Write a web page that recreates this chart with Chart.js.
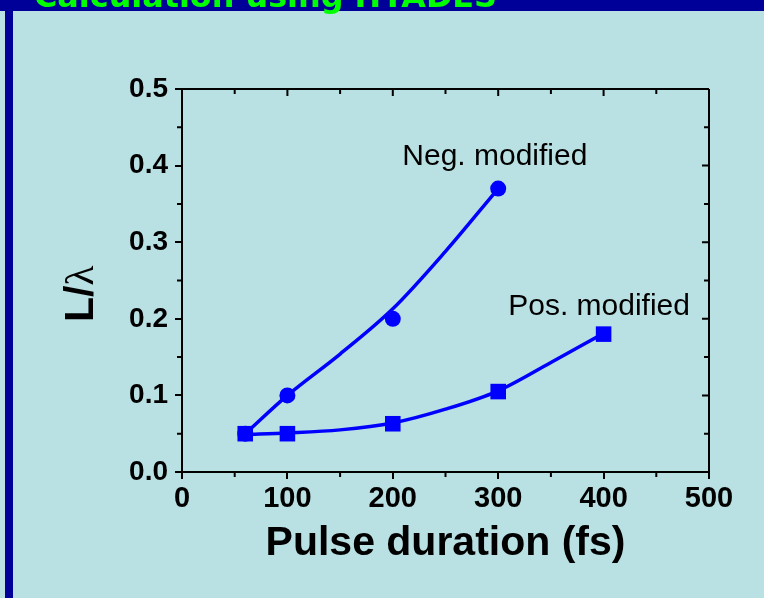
<!DOCTYPE html>
<html>
<head>
<meta charset="utf-8">
<script src="https://cdn.jsdelivr.net/npm/chart.js@4/dist/chart.umd.min.js"></script>
<style>
  html, body { margin: 0; padding: 0; }
  body { width: 764px; height: 598px; background: #b9e0e3; position: relative; overflow: hidden; }
  #band { position: absolute; left: 0; top: 0; width: 764px; height: 11px; background: #000099; }
  #bar { position: absolute; left: 5px; top: 0; width: 8px; height: 598px; background: #000099; }
  #c { position: absolute; left: 0; top: 0; }
</style>
</head>
<body>
<div id="band"></div>
<div id="bar"></div>
<canvas id="c" width="764" height="598"></canvas>
<script>
// Measured points: negatively and positively modified pulses
const negDuration = [60, 100, 200, 300];
const negRatio = [0.05, 0.10, 0.20, 0.37];
const posDuration = [60, 100, 200, 300, 400];
const posRatio = [0.05, 0.05, 0.063, 0.105, 0.18];

// Smooth fit curves through each set
const negFitDuration = [60, 100, 150, 200, 250, 300];
const negFitRatio = [0.05, 0.10, 0.154, 0.213, 0.288, 0.37];
const posFitDuration = [60, 100, 150, 200, 250, 300, 350, 400];
const posFitRatio = [0.049, 0.051, 0.055, 0.064, 0.082, 0.106, 0.143, 0.181];

// Axis ticks
const durationTicks = [0, 100, 200, 300, 400, 500];
const ratioTicks = [0.0, 0.1, 0.2, 0.3, 0.4, 0.5];

const heading = 'Calculation using HYADES';
const negLabel = 'Neg. modified';
const posLabel = 'Pos. modified';

const BLUE = '#0000ff';
const SANS = '"Liberation Sans", Arial, sans-serif';
const toXY = (xs, ys) => xs.map((x, i) => ({ x: x, y: ys[i] }));

// Frame, minor ticks, annotations and the y title
const framePlugin = {
  id: 'frame',
  afterDatasetsDraw(chart) {
    const ctx = chart.ctx;
    const xs = chart.scales.x, ys = chart.scales.y;
    ctx.save();
    ctx.fillStyle = '#000';
    ctx.font = '30px ' + SANS;
    ctx.textBaseline = 'alphabetic';
    ctx.textAlign = 'left';
    ctx.fillText(negLabel, xs.getPixelForValue(209), ys.getPixelForValue(0.401));
    ctx.fillText(posLabel, xs.getPixelForValue(309.5), ys.getPixelForValue(0.205));
    ctx.restore();
  },
  afterDraw(chart) {
    const ctx = chart.ctx;
    const a = chart.chartArea;
    const xs = chart.scales.x, ys = chart.scales.y;
    ctx.save();
    ctx.strokeStyle = '#000';
    ctx.lineWidth = 2;
    ctx.beginPath();
    ctx.moveTo(a.left, a.top); ctx.lineTo(a.right, a.top);
    ctx.moveTo(a.right, a.top); ctx.lineTo(a.right, a.bottom);
    ctx.stroke();
    ctx.beginPath();
    // x ticks: minor outward at bottom, all inward at top
    for (let v = 0; v <= 500; v += 50) {
      const p = xs.getPixelForValue(v);
      const major = v % 100 === 0;
      if (!major) { ctx.moveTo(p, a.bottom); ctx.lineTo(p, a.bottom + 5); }
      ctx.moveTo(p, a.top); ctx.lineTo(p, a.top + (major ? 7 : 5));
    }
    // y ticks: minor outward at left, all inward at right
    for (let k = 0; k <= 10; k++) {
      const v = k * 0.05;
      const p = ys.getPixelForValue(v);
      const major = k % 2 === 0;
      if (!major) { ctx.moveTo(a.left, p); ctx.lineTo(a.left - 5, p); }
      ctx.moveTo(a.right, p); ctx.lineTo(a.right - (major ? 7 : 5), p);
    }
    ctx.stroke();

    // y axis title: bold "L/" followed by a lambda
    ctx.translate(93, 322);
    ctx.rotate(-Math.PI / 2);
    ctx.fillStyle = '#000';
    ctx.textBaseline = 'alphabetic';
    ctx.textAlign = 'left';
    ctx.font = 'bold 41px ' + SANS;
    ctx.fillText('L/', 0, 0);
    const w = ctx.measureText('L/').width;
    ctx.font = '41px "Liberation Serif", serif';
    ctx.fillText('λ', w, 0);
    ctx.restore();

    // heading in the top band
    ctx.save();
    ctx.fillStyle = '#00ff00';
    ctx.font = 'bold 32px "DejaVu Sans", sans-serif';
    ctx.textBaseline = 'alphabetic';
    ctx.textAlign = 'left';
    ctx.fillText(heading, 34, 7, 463);
    ctx.restore();
  }
};

new Chart(document.getElementById('c'), {
  type: 'scatter',
  data: {
    datasets: [
      { data: toXY(negFitDuration, negFitRatio), showLine: true, pointRadius: 0,
        borderColor: BLUE, borderWidth: 3.5, cubicInterpolationMode: 'monotone', order: 4 },
      { data: toXY(posFitDuration, posFitRatio), showLine: true, pointRadius: 0,
        borderColor: BLUE, borderWidth: 3.5, cubicInterpolationMode: 'monotone', order: 3 },
      { data: toXY(negDuration, negRatio), showLine: false, pointStyle: 'circle', pointRadius: 8,
        pointBackgroundColor: BLUE, pointBorderColor: BLUE, pointBorderWidth: 0, order: 2 },
      { data: toXY(posDuration, posRatio), showLine: false, pointStyle: 'rect', pointRadius: 11,
        pointBackgroundColor: BLUE, pointBorderColor: BLUE, pointBorderWidth: 0, order: 1 }
    ]
  },
  options: {
    responsive: false,
    animation: false,
    devicePixelRatio: 1,
    layout: { padding: { left: 0, right: 55, top: 89, bottom: 0 } },
    plugins: { legend: { display: false }, tooltip: { enabled: false } },
    scales: {
      x: {
        type: 'linear', position: 'bottom', min: 0, max: 500,
        afterBuildTicks: s => { s.ticks = durationTicks.map(v => ({ value: v })); },
        afterFit: s => { s.height = 126; },
        grid: { display: true, drawOnChartArea: false, drawTicks: true, tickLength: 7, color: '#000', lineWidth: 2 },
        border: { display: true, color: '#000', width: 2 },
        ticks: { color: '#000', padding: 3, maxRotation: 0,
          font: { family: SANS, size: 29, weight: 'bold' } },
        title: { display: true, text: 'Pulse duration (fs)', color: '#000',
          font: { family: SANS, size: 41, weight: 'bold' },
          padding: { top: 0, bottom: 30 } }
      },
      y: {
        type: 'linear', position: 'left', min: 0, max: 0.5,
        afterBuildTicks: s => { s.ticks = ratioTicks.map(v => ({ value: v })); },
        afterFit: s => { s.width = 182; },
        grid: { display: true, drawOnChartArea: false, drawTicks: true, tickLength: 7, color: '#000', lineWidth: 2 },
        border: { display: true, color: '#000', width: 2 },
        ticks: { color: '#000', padding: 7, callback: v => Number(v).toFixed(1),
          font: { family: SANS, size: 28, weight: 'bold' } }
      }
    }
  },
  plugins: [framePlugin]
});
</script>
</body>
</html>
